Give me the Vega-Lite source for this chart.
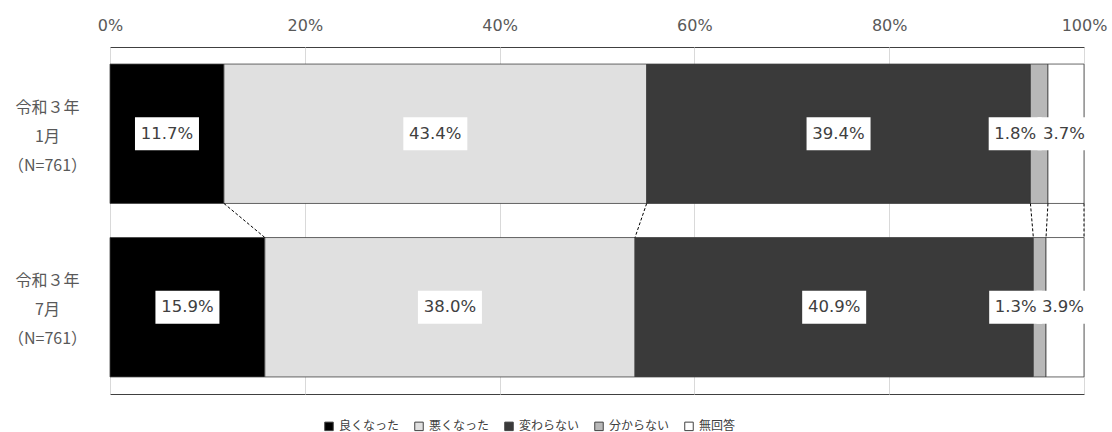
{
  "$schema": "https://vega.github.io/schema/vega-lite/v6.json",
  "width": 974,
  "height": 347,
  "autosize": {"type": "none"},
  "padding": {"left": 110, "top": 47, "right": 28, "bottom": 38},
  "background": "white",
  "config": {
    "view": {"stroke": "#404040", "strokeWidth": 1},
    "font": "DejaVu Sans"
  },
  "data": {
    "values": [
      {"月": "1月", "回答": "良くなった", "順": 1, "割合": 11.7},
      {"月": "1月", "回答": "悪くなった", "順": 2, "割合": 43.4},
      {"月": "1月", "回答": "変わらない", "順": 3, "割合": 39.4},
      {"月": "1月", "回答": "分からない", "順": 4, "割合": 1.8},
      {"月": "1月", "回答": "無回答", "順": 5, "割合": 3.7},
      {"月": "7月", "回答": "良くなった", "順": 1, "割合": 15.9},
      {"月": "7月", "回答": "悪くなった", "順": 2, "割合": 38.0},
      {"月": "7月", "回答": "変わらない", "順": 3, "割合": 40.9},
      {"月": "7月", "回答": "分からない", "順": 4, "割合": 1.3},
      {"月": "7月", "回答": "無回答", "順": 5, "割合": 3.9}
    ]
  },
  "transform": [
    {"stack": "割合", "groupby": ["月"], "sort": [{"field": "順", "order": "ascending"}], "as": ["始", "終"]},
    {"calculate": "(datum['始'] + datum['終']) / 2", "as": "中"},
    {"calculate": "format(datum['割合'], '.1f') + '%'", "as": "ラベル"}
  ],
  "layer": [
    {
      "mark": {"type": "bar", "stroke": "#404040", "strokeWidth": 0.8},
      "encoding": {
        "y": {
          "field": "月", "type": "nominal", "sort": ["1月", "7月"], "title": null,
          "scale": {"paddingInner": 0.1965, "paddingOuter": 0.0983},
          "axis": {
            "domain": false, "ticks": false, "tickSize": 0, "grid": false,
            "labelAlign": "center", "labelBaseline": "middle", "labelPadding": 63,
            "labelOffset": -26,
            "labelExpr": "['令和３年', datum.label, '（N=761）']",
            "labelFont": "Noto Sans CJK JP", "labelFontSize": 16, "labelColor": "#595959",
            "labelLineHeight": 29, "title": null
          }
        },
        "x": {
          "field": "始", "type": "quantitative", "title": null,
          "scale": {"domain": [0, 100], "nice": false},
          "axis": {
            "orient": "top", "values": [0, 20, 40, 60, 80, 100],
            "labelExpr": "datum.value + '%'", "domain": false, "ticks": false, "tickSize": 0,
            "labelFlush": false, "labelOverlap": false, "labelBound": false,
            "labelPadding": 14, "labelFontSize": 16, "labelColor": "#595959", "labelFont": "DejaVu Sans",
            "grid": true, "gridColor": "#d9d9d9", "title": null
          }
        },
        "x2": {"field": "終"},
        "color": {
          "field": "回答", "type": "nominal",
          "scale": {
            "domain": ["良くなった", "悪くなった", "変わらない", "分からない", "無回答"],
            "range": ["#000000", "#e0e0e0", "#3a3a3a", "#b8b8b8", "#ffffff"]
          },
          "legend": {
            "orient": "none", "legendX": 213, "legendY": 373, "direction": "horizontal",
            "title": null, "symbolType": "square", "symbolSize": 72,
            "symbolStrokeColor": "#404040", "symbolStrokeWidth": 1,
            "labelFont": "Noto Sans CJK JP", "labelFontSize": 12, "labelColor": "#404040",
            "columnPadding": 12, "labelOffset": 4
          }
        }
      }
    },
    {
      "transform": [{"pivot": "月", "value": "終", "groupby": ["回答"]}],
      "mark": {"type": "rule", "strokeDash": [3, 2], "color": "#000000", "strokeWidth": 1},
      "encoding": {
        "x": {"field": "1月", "type": "quantitative", "title": null},
        "x2": {"field": "7月"},
        "y": {"datum": "1月", "type": "nominal", "bandPosition": 1, "title": null},
        "y2": {"datum": "7月", "bandPosition": 0}
      }
    },
    {
      "transform": [{"filter": {"field": "回答", "oneOf": ["良くなった", "悪くなった", "変わらない"]}}],
      "mark": {"type": "point", "shape": "M-1,-0.516H1V0.516H-1Z", "size": 4096, "filled": true, "fill": "#ffffff", "strokeWidth": 0, "opacity": 1},
      "encoding": {
        "x": {"field": "中", "type": "quantitative", "title": null},
        "y": {"field": "月", "type": "nominal", "title": null}
      }
    },
    {
      "transform": [{"filter": {"field": "回答", "equal": "分からない"}}],
      "mark": {"type": "point", "shape": "M-1,-0.6226H1V0.6226H-1Z", "size": 2809, "filled": true, "fill": "#ffffff", "strokeWidth": 0, "opacity": 1, "xOffset": -24},
      "encoding": {
        "x": {"field": "中", "type": "quantitative", "title": null},
        "y": {"field": "月", "type": "nominal", "title": null}
      }
    },
    {
      "transform": [{"filter": {"field": "回答", "equal": "無回答"}}],
      "mark": {"type": "point", "shape": "M-1,-0.6226H1V0.6226H-1Z", "size": 2809, "filled": true, "fill": "#ffffff", "strokeWidth": 0, "opacity": 1, "xOffset": -2},
      "encoding": {
        "x": {"field": "中", "type": "quantitative", "title": null},
        "y": {"field": "月", "type": "nominal", "title": null}
      }
    },
    {
      "transform": [{"filter": {"field": "回答", "oneOf": ["良くなった", "悪くなった", "変わらない"]}}],
      "mark": {"type": "text", "font": "DejaVu Sans", "fontSize": 16.5, "color": "#404040", "baseline": "middle", "align": "center"},
      "encoding": {
        "x": {"field": "中", "type": "quantitative", "title": null},
        "y": {"field": "月", "type": "nominal", "title": null},
        "text": {"field": "ラベル"}
      }
    },
    {
      "transform": [{"filter": {"field": "回答", "equal": "分からない"}}],
      "mark": {"type": "text", "font": "DejaVu Sans", "fontSize": 16.5, "color": "#404040", "baseline": "middle", "align": "center", "dx": -24},
      "encoding": {
        "x": {"field": "中", "type": "quantitative", "title": null},
        "y": {"field": "月", "type": "nominal", "title": null},
        "text": {"field": "ラベル"}
      }
    },
    {
      "transform": [{"filter": {"field": "回答", "equal": "無回答"}}],
      "mark": {"type": "text", "font": "DejaVu Sans", "fontSize": 16.5, "color": "#404040", "baseline": "middle", "align": "center", "dx": -2},
      "encoding": {
        "x": {"field": "中", "type": "quantitative", "title": null},
        "y": {"field": "月", "type": "nominal", "title": null},
        "text": {"field": "ラベル"}
      }
    }
  ]
}
